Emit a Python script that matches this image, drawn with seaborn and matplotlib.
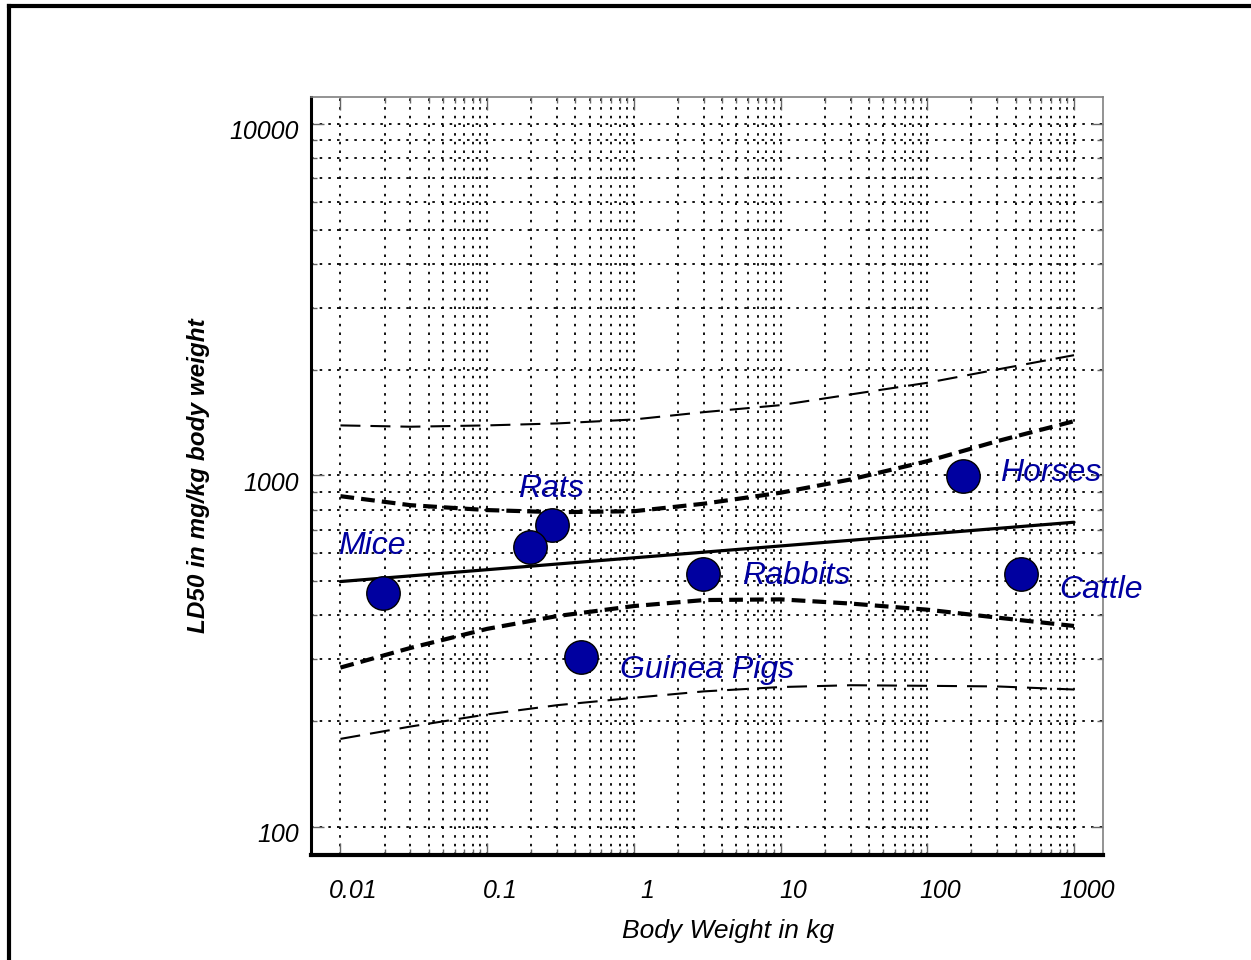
import pandas as pd
import seaborn as sns
import matplotlib.pyplot as plt
import matplotlib.transforms as mtransforms
from matplotlib.lines import Line2D
from matplotlib.ticker import FixedLocator, NullFormatter

# measured points (body weight kg, LD50 mg/kg)
species = ["Mice", "Rats", "Rats", "Guinea Pigs", "Rabbits", "Horses", "Cattle"]
weight_kg = [0.0195, 0.276, 0.197, 0.434, 2.97, 174, 438]
ld50 = [462, 722, 625, 305, 524, 995, 524]

# regression line
fit_x = [0.01, 1000]
fit_y = [499, 736]

# confidence / prediction bands
band_x = [0.01, 0.03, 0.1, 0.3, 1, 3, 10, 30, 100, 300, 1000]
conf_upper = [873, 823, 797, 786, 791, 831, 893, 974, 1098, 1252, 1427]
conf_lower = [284, 323, 366, 398, 425, 442, 444, 432, 415, 394, 373]
pred_upper = [1388, 1376, 1388, 1406, 1443, 1514, 1585, 1700, 1835, 2002, 2199]
pred_lower = [178, 193, 209, 222, 233, 243, 250, 253, 252, 251, 246]

x_ticks = [0.01, 0.1, 1, 10, 100, 1000]
x_tick_labels = ["0.01", "0.1", "1", "10", "100", "1000"]
y_ticks = [100, 1000, 10000]
y_tick_labels = ["100", "1000", "10000"]

sns.set_style("ticks")
plt.rcParams["font.family"] = ["Liberation Sans", "DejaVu Sans"]
plt.rcParams["text.color"] = "black"
plt.rcParams["axes.labelcolor"] = "black"
plt.rcParams["xtick.labelcolor"] = "black"
plt.rcParams["ytick.labelcolor"] = "black"

pts = pd.DataFrame({"Species": species, "Weight": weight_kg, "LD50": ld50})

fig = plt.figure(figsize=(12.51, 9.6), dpi=100)
ax = fig.add_axes([0.2486, 0.1094, 0.6331, 0.7896])
ax.set(xscale="log", yscale="log")

blue = "#0000a0"

sns.lineplot(x=band_x, y=pred_upper, ax=ax, color="black", linewidth=1.5,
             linestyle=(0, (9.6, 4.8)), zorder=3)
sns.lineplot(x=band_x, y=pred_lower, ax=ax, color="black", linewidth=1.5,
             linestyle=(0, (9.6, 4.8)), zorder=3)
sns.lineplot(x=band_x, y=conf_upper, ax=ax, color="black", linewidth=3,
             linestyle=(0, (3.3, 1.7)), zorder=3)
sns.lineplot(x=band_x, y=conf_lower, ax=ax, color="black", linewidth=3,
             linestyle=(0, (3.3, 1.7)), zorder=3)
sns.lineplot(x=fit_x, y=fit_y, ax=ax, color="black", linewidth=2.3, zorder=3)

sns.scatterplot(data=pts, x="Weight", y="LD50", ax=ax, s=580, color=blue,
                edgecolor="black", linewidth=1, zorder=5, legend=False)

# species labels, offsets in pixels from their point
label_offsets = {0: (-45, 39), 1: (-34, 28), 3: (39, -21),
                 4: (39, -10), 5: (37, -5), 6: (38, -24)}
for i, (dx, dy) in label_offsets.items():
    ax.annotate(species[i], (weight_kg[i], ld50[i]), xytext=(dx, dy),
                textcoords="offset pixels", ha="left", va="baseline",
                color=blue, fontsize=23, fontstyle="italic", zorder=6)

ax.set_xlim(0.0063, 1576)
ax.set_ylim(83.2, 11937)

ax.set_xticks(x_ticks, labels=x_tick_labels)
ax.set_yticks(y_ticks, labels=y_tick_labels)
ax.xaxis.set_minor_locator(FixedLocator(
    [k * 10.0 ** e for e in range(-2, 3) for k in range(2, 10)]))
ax.yaxis.set_minor_locator(FixedLocator(
    [k * 10.0 ** e for e in range(2, 4) for k in range(2, 10)]))
ax.xaxis.set_minor_formatter(NullFormatter())
ax.yaxis.set_minor_formatter(NullFormatter())

ax.grid(True, which="both", color="black", linestyle=(0, (1.4, 3.4)), linewidth=1.3)
ax.set_axisbelow(True)

ax.tick_params(which="both", direction="in", top=True, right=True,
               color="#666666", width=1)
ax.tick_params(which="major", length=9, labelsize=18)
ax.tick_params(which="minor", length=4)
ax.tick_params(axis="x", pad=17)
ax.tick_params(axis="y", pad=9)

for lab in ax.get_xticklabels():
    lab.set_fontstyle("italic")
    lab.set_transform(lab.get_transform() +
                      mtransforms.ScaledTranslation(0.13, 0, fig.dpi_scale_trans))
for lab in ax.get_yticklabels():
    lab.set_fontstyle("italic")
    lab.set_transform(lab.get_transform() +
                      mtransforms.ScaledTranslation(0, -0.06, fig.dpi_scale_trans))

ax.spines["left"].set_linewidth(2.2)
ax.spines["left"].set_color("black")
ax.spines["bottom"].set_linewidth(3)
ax.spines["bottom"].set_color("black")
for s in ["top", "right"]:
    ax.spines[s].set_linewidth(1.2)
    ax.spines[s].set_color("#808080")
for s in ax.spines.values():
    s.set_zorder(4)

ax.set_xlabel("Body Weight in kg", fontsize=19, fontstyle="italic", va="center")
ax.xaxis.set_label_coords(0.526, -0.100)
ax.set_ylabel("LD50 in mg/kg body weight", fontsize=17.5, fontstyle="italic",
              fontweight="bold", va="center")
ax.yaxis.set_label_coords(-0.1425, 0.501)

# outer frame (top and left edges visible)
fig.add_artist(Line2D([0.0072, 0.0072], [0, 0.99375], color="black", lw=3,
                      transform=fig.transFigure, solid_capstyle="projecting"))
fig.add_artist(Line2D([0.0072, 1], [0.99375, 0.99375], color="black", lw=3,
                      transform=fig.transFigure, solid_capstyle="projecting"))

fig.savefig("out.png", dpi=100)
plt.close()
